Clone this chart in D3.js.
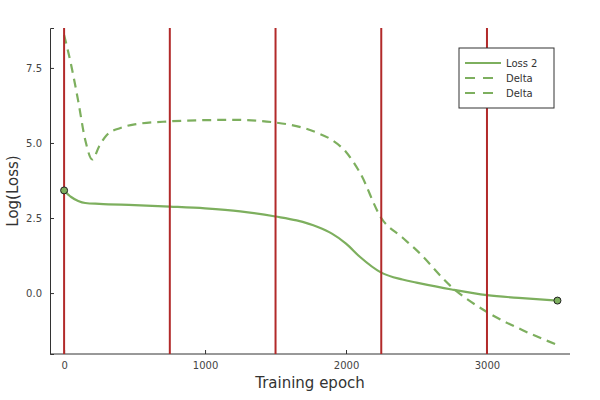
<!DOCTYPE html>
<html><head><meta charset="utf-8">
<script src="https://cdn.jsdelivr.net/npm/d3@7"></script>
<style>body{margin:0;background:#fff}text{font-family:"DejaVu Sans",sans-serif}</style>
</head><body><svg id="chart" width="600" height="400"></svg>
<script>
var lossEpochs = [0, 50, 100, 150, 250, 500, 750, 1000, 1250, 1500, 1650, 1800, 1900, 2000, 2100, 2250, 2400, 2500, 2750, 3000, 3250, 3500]
var lossValues = [3.42, 3.2, 3.07, 3.0, 2.97, 2.93, 2.88, 2.82, 2.72, 2.55, 2.42, 2.2, 1.98, 1.65, 1.2, 0.68, 0.45, 0.35, 0.12, -0.07, -0.17, -0.25]
var deltaEpochs = [0, 50, 100, 150, 200, 250, 300, 400, 500, 750, 1000, 1200, 1500, 1700, 1800, 1900, 2000, 2100, 2250, 2400, 2500, 2750, 3000, 3250, 3500]
var deltaValues = [8.6, 7.6, 6.4, 5.1, 4.45, 4.9, 5.25, 5.5, 5.62, 5.72, 5.76, 5.77, 5.68, 5.5, 5.33, 5.1, 4.7, 4.0, 2.5, 1.85, 1.43, 0.2, -0.63, -1.23, -1.73]
var vlines = [0, 750, 1500, 2250, 3000]
var xTicks = [0, 1000, 2000, 3000]
var yTicks = [0, 2.5, 5, 7.5]
var legendLabels = ["Loss 2", "Delta", "Delta"]

var svg = d3.select("#chart")
var x = d3.scaleLinear().domain([-100, 3589]).range([50, 570])
var y = d3.scaleLinear().domain([-2.03, 8.83]).range([354, 28])
var green = "#7daf5e", red = "#b22a2a"

svg.append("g").attr("transform", "translate(0,354)")
  .call(d3.axisBottom(x).tickValues(xTicks).tickFormat(d3.format("d")).tickSize(-4).tickPadding(8))
svg.append("g").attr("transform", "translate(50,0)")
  .call(d3.axisLeft(y).tickValues(yTicks).tickFormat(d3.format(".1f")).tickSize(-4).tickPadding(8))
svg.selectAll(".domain").attr("stroke", "#333")
svg.selectAll(".tick line").attr("stroke", "#333")
svg.selectAll(".tick text").attr("font-size", 10).attr("fill", "#444")
svg.select("g").selectAll(".domain").attr("d", "M50,0H570")

svg.append("text").attr("x", 310).attr("y", 388).attr("text-anchor", "middle")
  .attr("font-size", 15).attr("fill", "#333").text("Training epoch")
svg.append("text").attr("transform", "translate(18,191) rotate(-90)").attr("text-anchor", "middle")
  .attr("font-size", 15).attr("fill", "#333").text("Log(Loss)")

var line = d3.line().x(function(d){ return x(d[0]) }).y(function(d){ return y(d[1]) }).curve(d3.curveMonotoneX)
svg.append("path").datum(deltaEpochs.map(function(e,i){ return [e, deltaValues[i]] }))
  .attr("d", line).attr("fill", "none").attr("stroke", green).attr("stroke-width", 2.2).attr("stroke-dasharray", "9,6")
svg.append("path").datum(lossEpochs.map(function(e,i){ return [e, lossValues[i]] }))
  .attr("d", line).attr("fill", "none").attr("stroke", green).attr("stroke-width", 2.2)

svg.selectAll(".vl").data(vlines).enter().append("line")
  .attr("x1", function(d){ return x(d) }).attr("x2", function(d){ return x(d) })
  .attr("y1", 28).attr("y2", 354).attr("stroke", red).attr("stroke-width", 2)

var ends = [[lossEpochs[0], lossValues[0]], [lossEpochs[lossEpochs.length-1], lossValues[lossValues.length-1]]]
svg.selectAll(".pt").data(ends).enter().append("circle")
  .attr("cx", function(d){ return x(d[0]) }).attr("cy", function(d){ return y(d[1]) })
  .attr("r", 3.5).attr("fill", green).attr("stroke", "#222").attr("stroke-width", 1)

var lg = svg.append("g").attr("transform", "translate(459,48)")
lg.append("rect").attr("width", 95).attr("height", 60).attr("fill", "#fff").attr("stroke", "#333")
legendLabels.forEach(function(l, i){
  lg.append("line").attr("x1", 6).attr("x2", 42).attr("y1", 15 + i*15).attr("y2", 15 + i*15)
    .attr("stroke", green).attr("stroke-width", 2).attr("stroke-dasharray", i ? "10,8" : null)
  lg.append("text").attr("x", 47).attr("y", 19 + i*15).attr("font-size", 10).attr("fill", "#333").text(l)
})
</script></body></html>
